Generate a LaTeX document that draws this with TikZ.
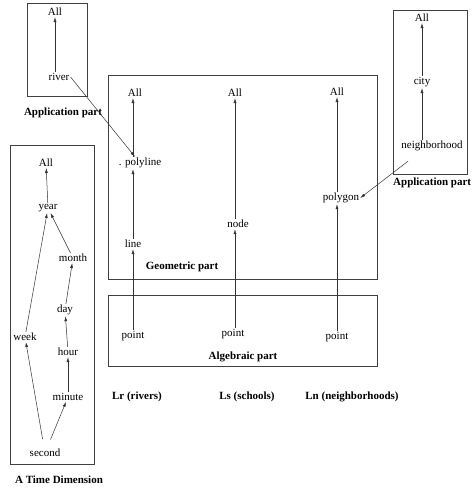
\documentclass[tikz,border=0pt]{standalone}
\usepackage{fontspec}
\setmainfont{Liberation Serif}
\usetikzlibrary{arrows.meta}
\tikzset{
  lev/.style={font=\fontsize{11}{13}\selectfont, inner sep=1pt},
  part/.style={font=\fontsize{11}{13}\selectfont\bfseries, inner sep=1pt},
  up/.style={draw=black!80, line width=0.5pt, -{Latex[length=5pt,width=3pt]}},
  frame/.style={draw=black!75, line width=0.6pt}
}
\begin{document}
\begin{tikzpicture}[x=1pt,y=-1pt]
\useasboundingbox (0,0) rectangle (474,491);

% application part, rivers
\draw[frame] (27,3) rectangle (87,96);
\node[lev] (r-all) at (55,12) {All};
\node[lev] (r-river) at (59,77) {river};
\node[part] (r-lab) at (63,113) {Application part};
\draw[up] (r-river.north -| r-all) -- (r-all);

% geometric part
\draw[frame] (108,75) rectangle (377,279);
\node[part] (g-lab) at (182,267) {Geometric part};
\node[lev] (g1-all) at (135,93) {All};
\node[lev] (g1-poly) at (140,163) {. polyline};
\node[lev] (g1-line) at (133,244) {line};
\node[lev] (g2-all) at (235,93) {All};
\node[lev] (g2-node) at (238,224) {node};
\node[lev] (g3-all) at (337,92) {All};
\node[lev] (g3-poly) at (341,198) {polygon};

% algebraic part
\draw[frame] (108,295) rectangle (377,366);
\node[part] (a-lab) at (243,357) {Algebraic part};
\node[lev] (a1-pt) at (133,336) {point};
\node[lev] (a2-pt) at (233,334) {point};
\node[lev] (a3-pt) at (337,337) {point};

\draw[up] (a1-pt) -- (g1-line);
\draw[up] (g1-line.north) -- (g1-line.north |- g1-poly.south);
\draw[up] (g1-line.north |- g1-poly.north) -- (g1-line.north |- g1-all.south);
\draw[up] (a2-pt.north -| g2-all) -- (g2-node.south -| g2-all);
\draw[up] (g2-node.north -| g2-all) -- (g2-all);
\draw[up] (a3-pt) -- (a3-pt |- g3-poly.south);
\draw[up] (g3-poly.north -| g3-all) -- (g3-all);

% layer names
\node[part] (l-r) at (137,397) {Lr (rivers)};
\node[part] (l-s) at (247,397) {Ls (schools)};
\node[part] (l-n) at (352,397) {Ln (neighborhoods)};

% application part, neighborhoods
\draw[frame] (393,10) rectangle (467,174);
\node[lev] (n-all) at (422,18) {All};
\node[lev] (n-city) at (422,82) {city};
\node[lev] (n-hood) at (432,146) {neighborhood};
\node[part, anchor=west] (n-lab) at (392,183) {Application part};
\draw[up] (n-hood.north -| n-city) -- (n-city);
\draw[up] (n-city) -- (n-all);

% links between parts
\draw[up] (r-river.east) -- (g1-poly);
\draw[up] ([xshift=-24pt,yshift=-9pt]n-hood.south) -- (g3-poly.east);

% time dimension
\draw[frame] (10,145) rectangle (94,464);
\node[part] (t-lab) at (59,480) {A Time Dimension};
\node[lev] (t-all) at (46,163) {All};
\node[lev] (t-year) at (48,208) {year};
\node[lev] (t-month) at (73,258) {month};
\node[lev] (t-day) at (65,310) {day};
\node[lev] (t-week) at (25,337) {week};
\node[lev] (t-hour) at (68,352) {hour};
\node[lev] (t-min) at (68,397) {minute};
\node[lev] (t-sec) at (45,453) {second};

\draw[up] (t-year) -- (t-all);
\draw[up] (t-month) -- (t-year);
\draw[up] (t-week) -- (t-year);
\draw[up] (t-day) -- (t-month);
\draw[up] (t-hour) -- (t-day);
\draw[up] (t-min) -- (t-hour);
\draw[up, shorten <=9pt] (t-sec) -- (t-week);
\draw[up, shorten <=9pt] (t-sec) -- (t-min);
\end{tikzpicture}
\end{document}
